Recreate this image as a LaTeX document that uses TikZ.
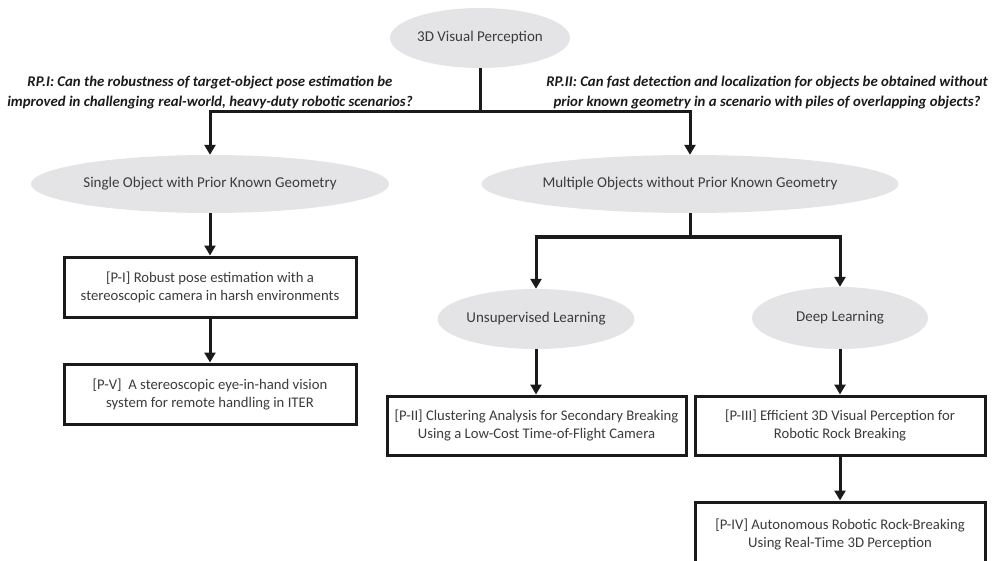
\documentclass[tikz,border=0pt]{standalone}
\usepackage{fontspec}
\setmainfont{Carlito}
\usetikzlibrary{shapes.geometric,arrows.meta}
\definecolor{linec}{HTML}{1A1A1A}
\definecolor{txtc}{HTML}{3C3C3C}
\definecolor{ellc}{HTML}{E4E4E6}
\begin{document}
\begin{tikzpicture}[x=1pt,y=-1pt,
  ell/.style={ellipse,fill=ellc,draw=none,inner sep=0pt,text=txtc,font=\fontsize{15}{18}\selectfont},
  pbox/.style={rectangle,draw=linec,line width=3pt,fill=white,inner sep=0pt,text=txtc,align=center,font=\fontsize{14.7}{18}\selectfont},
  rq/.style={align=center,text=linec,inner sep=0pt,font=\fontsize{14.8}{20}\selectfont\bfseries\itshape},
  conn/.style={draw=linec,line width=3pt},
  arr/.style={conn,-{Triangle[width=11pt,length=10pt]}}]
\useasboundingbox (0,0) rectangle (1000,561);
\clip (0,0) rectangle (1000,561);
% nodes
\node[ell,minimum width=180,minimum height=60] (top) at (480,38) {3D Visual Perception};
\node[rq] (rp1) at (210,93) {RP.I: Can the robustness of target-object pose estimation be\\improved in challenging real-world, heavy-duty robotic scenarios?};
\node[rq] (rp2) at (767,93) {RP.II: Can fast detection and localization for objects be obtained without\\prior known geometry in a scenario with piles of overlapping objects?};
\node[ell,minimum width=298,minimum height=58] (single) at (210,184) {Single Object with Prior Known Geometry};
\node[ell,minimum width=347,minimum height=58] (multi) at (690,184) {Multiple Objects without Prior Known Geometry};
\node[ell,minimum width=178,minimum height=60] (unsup) at (536,319) {Unsupervised Learning};
\node[ell,minimum width=176,minimum height=62] (deep) at (840,318) {Deep Learning};
\node[pbox,minimum width=292,minimum height=60] (p1) at (210,287) {[P-I] Robust pose estimation with a\\stereoscopic camera in harsh environments};
\node[pbox,minimum width=292,minimum height=60] (p5) at (210,394) {[P-V]\ \ A stereoscopic eye-in-hand vision\\system for remote handling in ITER};
\node[pbox,minimum width=299,minimum height=59] (p2) at (536.5,425.5) {[P-II] Clustering Analysis for Secondary Breaking\\Using a Low-Cost Time-of-Flight Camera};
\node[pbox,minimum width=290,minimum height=59] (p3) at (840,425.5) {[P-III] Efficient 3D Visual Perception for\\Robotic Rock Breaking};
\node[pbox,minimum width=290,minimum height=64] (p4) at (840,534) {[P-IV] Autonomous Robotic Rock-Breaking\\Using Real-Time 3D Perception};
% junctions
\coordinate (jt) at (480,112);
\coordinate (jm) at (690,237);
% connectors
\draw[conn] (top.south) -- (jt);
\draw[arr] (jt) -| (single.north);
\draw[arr] (jt) -| (multi.north);
\draw[arr] (single) -- (p1);
\draw[arr] (p1) -- (p5);
\draw[conn] (multi.south) -- (jm);
\draw[arr] (jm) -| (unsup.north);
\draw[arr] (jm) -| (deep.north);
\draw[arr] (unsup.south) -- (unsup.south |- p2.north);
\draw[arr] (deep.south) -- (deep.south |- p3.north);
\draw[arr] (p3) -- (p4);
\end{tikzpicture}
\end{document}
